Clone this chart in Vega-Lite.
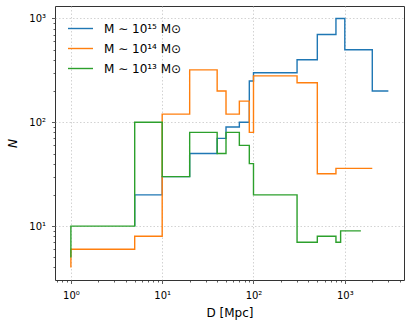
{
  "$schema": "https://vega.github.io/schema/vega-lite/v6.json",
  "width": 349,
  "height": 274,
  "autosize": {"type": "none"},
  "padding": {"left": 55, "top": 6, "right": 7, "bottom": 49},
  "background": "white",
  "config": {
    "font": "DejaVu Sans",
    "view": {"stroke": "#333333", "strokeWidth": 1},
    "axis": {
      "domain": false,
      "labelFont": "DejaVu Sans",
      "labelFontSize": 10,
      "labelColor": "#000000",
      "titleFont": "DejaVu Sans",
      "titleFontSize": 12,
      "titleFontWeight": "normal",
      "titleColor": "#000000",
      "tickColor": "#333333",
      "tickWidth": 0.8,
      "labelOverlap": false,
      "labelFlush": false,
      "gridColor": "#c8c8c8",
      "gridDash": [1.5, 2],
      "gridWidth": 0.8
    },
    "legend": {
      "labelFont": "DejaVu Sans",
      "labelFontSize": 12,
      "labelColor": "#000000"
    }
  },
  "data": {
    "values": [
      {"series": "M ∼ 10¹⁵ M⊙", "D": 5, "N": 10},
      {"series": "M ∼ 10¹⁵ M⊙", "D": 10, "N": 20},
      {"series": "M ∼ 10¹⁵ M⊙", "D": 20, "N": 30},
      {"series": "M ∼ 10¹⁵ M⊙", "D": 40, "N": 50},
      {"series": "M ∼ 10¹⁵ M⊙", "D": 50, "N": 70},
      {"series": "M ∼ 10¹⁵ M⊙", "D": 70, "N": 90},
      {"series": "M ∼ 10¹⁵ M⊙", "D": 90, "N": 100},
      {"series": "M ∼ 10¹⁵ M⊙", "D": 100, "N": 250},
      {"series": "M ∼ 10¹⁵ M⊙", "D": 300, "N": 300},
      {"series": "M ∼ 10¹⁵ M⊙", "D": 500, "N": 400},
      {"series": "M ∼ 10¹⁵ M⊙", "D": 800, "N": 700},
      {"series": "M ∼ 10¹⁵ M⊙", "D": 1000, "N": 1000},
      {"series": "M ∼ 10¹⁵ M⊙", "D": 2000, "N": 500},
      {"series": "M ∼ 10¹⁵ M⊙", "D": 3000, "N": 200},
      {"series": "M ∼ 10¹⁴ M⊙", "D": 1, "N": 4},
      {"series": "M ∼ 10¹⁴ M⊙", "D": 5, "N": 6},
      {"series": "M ∼ 10¹⁴ M⊙", "D": 10, "N": 8},
      {"series": "M ∼ 10¹⁴ M⊙", "D": 20, "N": 120},
      {"series": "M ∼ 10¹⁴ M⊙", "D": 40, "N": 320},
      {"series": "M ∼ 10¹⁴ M⊙", "D": 50, "N": 200},
      {"series": "M ∼ 10¹⁴ M⊙", "D": 70, "N": 120},
      {"series": "M ∼ 10¹⁴ M⊙", "D": 90, "N": 160},
      {"series": "M ∼ 10¹⁴ M⊙", "D": 100, "N": 80},
      {"series": "M ∼ 10¹⁴ M⊙", "D": 300, "N": 280},
      {"series": "M ∼ 10¹⁴ M⊙", "D": 500, "N": 240},
      {"series": "M ∼ 10¹⁴ M⊙", "D": 800, "N": 32},
      {"series": "M ∼ 10¹⁴ M⊙", "D": 2000, "N": 36},
      {"series": "M ∼ 10¹³ M⊙", "D": 1, "N": 5},
      {"series": "M ∼ 10¹³ M⊙", "D": 5, "N": 10},
      {"series": "M ∼ 10¹³ M⊙", "D": 10, "N": 100},
      {"series": "M ∼ 10¹³ M⊙", "D": 20, "N": 30},
      {"series": "M ∼ 10¹³ M⊙", "D": 40, "N": 80},
      {"series": "M ∼ 10¹³ M⊙", "D": 50, "N": 50},
      {"series": "M ∼ 10¹³ M⊙", "D": 70, "N": 80},
      {"series": "M ∼ 10¹³ M⊙", "D": 90, "N": 60},
      {"series": "M ∼ 10¹³ M⊙", "D": 100, "N": 40},
      {"series": "M ∼ 10¹³ M⊙", "D": 300, "N": 20},
      {"series": "M ∼ 10¹³ M⊙", "D": 500, "N": 7},
      {"series": "M ∼ 10¹³ M⊙", "D": 800, "N": 8},
      {"series": "M ∼ 10¹³ M⊙", "D": 900, "N": 7},
      {"series": "M ∼ 10¹³ M⊙", "D": 1500, "N": 9}
    ]
  },
  "mark": {"type": "line", "interpolate": "step-before", "strokeWidth": 1.4, "clip": true},
  "encoding": {
    "x": {
      "field": "D",
      "type": "quantitative",
      "title": "D [Mpc]",
      "scale": {"type": "log", "domain": [0.67, 4450], "nice": false},
      "axis": {
        "values": [0.7, 0.8, 0.9, 1, 2, 3, 4, 5, 6, 7, 8, 9, 10, 20, 30, 40, 50, 60, 70, 80, 90, 100, 200, 300, 400, 500, 600, 700, 800, 900, 1000, 2000, 3000, 4000],
        "labelExpr": "abs(log(datum.value)/LN10 - round(log(datum.value)/LN10)) < 1e-6 ? '10' + ['⁰','¹','²','³','⁴'][round(log(datum.value)/LN10)] : ''",
        "tickSize": {"condition": {"test": "abs(log(datum.value)/LN10 - round(log(datum.value)/LN10)) < 1e-6", "value": 3.5}, "value": 2},
        "gridOpacity": {"condition": {"test": "abs(log(datum.value)/LN10 - round(log(datum.value)/LN10)) < 1e-6", "value": 1}, "value": 0},
        "labelPadding": 7,
        "titlePadding": 7
      }
    },
    "y": {
      "field": "N",
      "type": "quantitative",
      "title": "N",
      "scale": {"type": "log", "domain": [3.03, 1318], "nice": false},
      "axis": {
        "values": [4, 5, 6, 7, 8, 9, 10, 20, 30, 40, 50, 60, 70, 80, 90, 100, 200, 300, 400, 500, 600, 700, 800, 900, 1000],
        "labelExpr": "abs(log(datum.value)/LN10 - round(log(datum.value)/LN10)) < 1e-6 ? '10' + ['⁰','¹','²','³','⁴'][round(log(datum.value)/LN10)] : ''",
        "tickSize": {"condition": {"test": "abs(log(datum.value)/LN10 - round(log(datum.value)/LN10)) < 1e-6", "value": 3.5}, "value": 2},
        "gridOpacity": {"condition": {"test": "abs(log(datum.value)/LN10 - round(log(datum.value)/LN10)) < 1e-6", "value": 1}, "value": 0},
        "labelPadding": 6,
        "titlePadding": 9,
        "titleFontStyle": "italic"
      }
    },
    "color": {
      "field": "series",
      "type": "nominal",
      "sort": ["M ∼ 10¹⁵ M⊙", "M ∼ 10¹⁴ M⊙", "M ∼ 10¹³ M⊙"],
      "scale": {
        "domain": ["M ∼ 10¹⁵ M⊙", "M ∼ 10¹⁴ M⊙", "M ∼ 10¹³ M⊙"],
        "range": ["#1f77b4", "#ff7f0e", "#2ca02c"]
      },
      "legend": {
        "title": null,
        "orient": "none",
        "legendX": 12,
        "legendY": 9,
        "symbolType": "stroke",
        "symbolSize": 625,
        "symbolStrokeWidth": 1.4,
        "labelOffset": 10,
        "rowPadding": -7,
        "padding": 0
      }
    },
    "order": {"field": "D", "type": "quantitative"}
  }
}
